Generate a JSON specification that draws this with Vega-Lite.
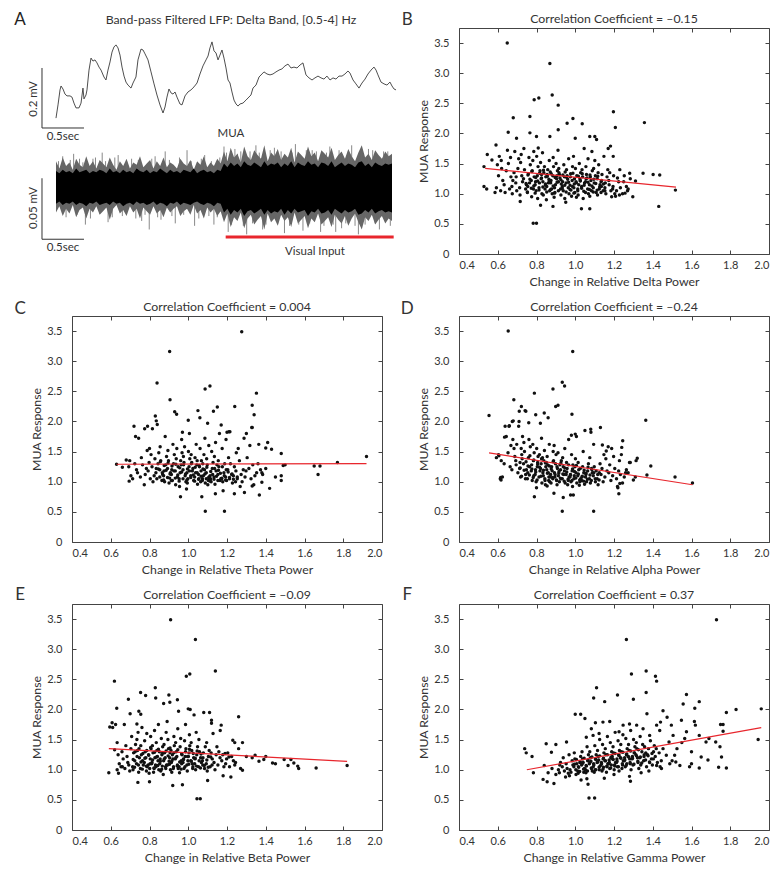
{"$schema":"https://vega.github.io/schema/vega-lite/v6.json","background":"white","padding":{"left":14,"top":10,"right":2,"bottom":2},"bounds":"flush","columns":2,"spacing":{"row":62,"column":77},
"config":{"font":"Lato","view":{"stroke":"#444","strokeWidth":1},"axis":{"grid":false,"domain":false,"tickColor":"#444","tickSize":-4,"labelFont":"Lato","labelFontSize":11,"labelColor":"#333","titleFont":"Lato","titleFontSize":12.3,"titleFontWeight":"normal","titleColor":"#333"},"axisX":{"labelPadding":9,"titlePadding":5},"axisY":{"labelPadding":14,"titlePadding":3},"text":{"font":"Lato","color":"#333"}},
"datasets":{
"lfp":[{"t":0,"mV":0.033},{"t":0.024,"mV":0.077},{"t":0.048,"mV":0.127},{"t":0.06,"mV":0.14},{"t":0.083,"mV":0.13},{"t":0.107,"mV":0.113},{"t":0.131,"mV":0.107},{"t":0.167,"mV":0.107},{"t":0.19,"mV":0.103},{"t":0.214,"mV":0.083},{"t":0.238,"mV":0.067},{"t":0.274,"mV":0.067},{"t":0.298,"mV":0.083},{"t":0.321,"mV":0.133},{"t":0.333,"mV":0.097},{"t":0.357,"mV":0.11},{"t":0.369,"mV":0.127},{"t":0.393,"mV":0.193},{"t":0.417,"mV":0.233},{"t":0.44,"mV":0.223},{"t":0.464,"mV":0.227},{"t":0.488,"mV":0.217},{"t":0.512,"mV":0.203},{"t":0.536,"mV":0.193},{"t":0.571,"mV":0.17},{"t":0.595,"mV":0.16},{"t":0.619,"mV":0.193},{"t":0.643,"mV":0.22},{"t":0.667,"mV":0.253},{"t":0.69,"mV":0.27},{"t":0.714,"mV":0.277},{"t":0.738,"mV":0.267},{"t":0.762,"mV":0.243},{"t":0.786,"mV":0.203},{"t":0.81,"mV":0.173},{"t":0.833,"mV":0.153},{"t":0.857,"mV":0.143},{"t":0.893,"mV":0.133},{"t":0.917,"mV":0.15},{"t":0.952,"mV":0.17},{"t":0.976,"mV":0.227},{"t":1.012,"mV":0.263},{"t":1.036,"mV":0.26},{"t":1.06,"mV":0.247},{"t":1.095,"mV":0.227},{"t":1.131,"mV":0.187},{"t":1.167,"mV":0.147},{"t":1.202,"mV":0.11},{"t":1.238,"mV":0.077},{"t":1.274,"mV":0.05},{"t":1.298,"mV":0.07},{"t":1.321,"mV":0.103},{"t":1.345,"mV":0.13},{"t":1.369,"mV":0.117},{"t":1.393,"mV":0.113},{"t":1.417,"mV":0.12},{"t":1.44,"mV":0.103},{"t":1.476,"mV":0.08},{"t":1.5,"mV":0.077},{"t":1.536,"mV":0.107},{"t":1.571,"mV":0.12},{"t":1.607,"mV":0.127},{"t":1.643,"mV":0.137},{"t":1.679,"mV":0.15},{"t":1.714,"mV":0.18},{"t":1.75,"mV":0.207},{"t":1.786,"mV":0.227},{"t":1.81,"mV":0.24},{"t":1.833,"mV":0.267},{"t":1.857,"mV":0.287},{"t":1.881,"mV":0.257},{"t":1.905,"mV":0.25},{"t":1.929,"mV":0.227},{"t":1.952,"mV":0.243},{"t":1.976,"mV":0.26},{"t":2.0,"mV":0.233},{"t":2.024,"mV":0.2},{"t":2.048,"mV":0.16},{"t":2.071,"mV":0.15},{"t":2.095,"mV":0.12},{"t":2.119,"mV":0.093},{"t":2.143,"mV":0.08},{"t":2.167,"mV":0.073},{"t":2.19,"mV":0.08},{"t":2.226,"mV":0.083},{"t":2.262,"mV":0.093},{"t":2.286,"mV":0.1},{"t":2.321,"mV":0.11},{"t":2.345,"mV":0.133},{"t":2.381,"mV":0.143},{"t":2.417,"mV":0.17},{"t":2.452,"mV":0.18},{"t":2.476,"mV":0.187},{"t":2.512,"mV":0.18},{"t":2.548,"mV":0.177},{"t":2.583,"mV":0.18},{"t":2.619,"mV":0.187},{"t":2.655,"mV":0.193},{"t":2.69,"mV":0.197},{"t":2.726,"mV":0.207},{"t":2.762,"mV":0.213},{"t":2.798,"mV":0.2},{"t":2.833,"mV":0.203},{"t":2.869,"mV":0.2},{"t":2.905,"mV":0.21},{"t":2.94,"mV":0.217},{"t":2.976,"mV":0.177},{"t":3.012,"mV":0.167},{"t":3.048,"mV":0.16},{"t":3.083,"mV":0.167},{"t":3.119,"mV":0.173},{"t":3.155,"mV":0.167},{"t":3.19,"mV":0.163},{"t":3.226,"mV":0.173},{"t":3.262,"mV":0.16},{"t":3.298,"mV":0.167},{"t":3.333,"mV":0.163},{"t":3.369,"mV":0.173},{"t":3.405,"mV":0.173},{"t":3.44,"mV":0.18},{"t":3.476,"mV":0.19},{"t":3.5,"mV":0.183},{"t":3.536,"mV":0.16},{"t":3.571,"mV":0.147},{"t":3.607,"mV":0.133},{"t":3.643,"mV":0.15},{"t":3.679,"mV":0.163},{"t":3.714,"mV":0.18},{"t":3.75,"mV":0.193},{"t":3.786,"mV":0.203},{"t":3.81,"mV":0.193},{"t":3.833,"mV":0.177},{"t":3.869,"mV":0.153},{"t":3.905,"mV":0.147},{"t":3.94,"mV":0.143},{"t":3.976,"mV":0.153},{"t":4.0,"mV":0.14},{"t":4.024,"mV":0.13},{"t":4.048,"mV":0.127}],
"mua":[{"t":0,"a":22,"b":14,"c":-13,"d":-20},{"t":0.04,"a":16,"b":12,"c":-11,"d":-15},{"t":0.08,"a":25,"b":15,"c":-14,"d":-23},{"t":0.12,"a":18,"b":13,"c":-12,"d":-17},{"t":0.16,"a":21,"b":14,"c":-13,"d":-21},{"t":0.2,"a":15,"b":12,"c":-11,"d":-14},{"t":0.24,"a":24,"b":16,"c":-14,"d":-24},{"t":0.28,"a":19,"b":13,"c":-12,"d":-18},{"t":0.32,"a":17,"b":14,"c":-13,"d":-16},{"t":0.36,"a":26,"b":15,"c":-15,"d":-25},{"t":0.4,"a":18,"b":12,"c":-12,"d":-17},{"t":0.44,"a":22,"b":14,"c":-13,"d":-20},{"t":0.48,"a":16,"b":13,"c":-11,"d":-15},{"t":0.52,"a":23,"b":15,"c":-14,"d":-22},{"t":0.56,"a":20,"b":14,"c":-13,"d":-19},{"t":0.6,"a":17,"b":12,"c":-12,"d":-16},{"t":0.64,"a":25,"b":16,"c":-14,"d":-26},{"t":0.68,"a":19,"b":13,"c":-11,"d":-17},{"t":0.72,"a":15,"b":14,"c":-13,"d":-14},{"t":0.76,"a":22,"b":12,"c":-12,"d":-21},{"t":0.8,"a":18,"b":15,"c":-15,"d":-18},{"t":0.84,"a":24,"b":13,"c":-13,"d":-23},{"t":0.88,"a":16,"b":14,"c":-12,"d":-15},{"t":0.92,"a":21,"b":12,"c":-14,"d":-20},{"t":0.96,"a":19,"b":16,"c":-11,"d":-17},{"t":1.0,"a":26,"b":14,"c":-13,"d":-25},{"t":1.04,"a":17,"b":13,"c":-12,"d":-16},{"t":1.08,"a":20,"b":15,"c":-14,"d":-19},{"t":1.12,"a":23,"b":12,"c":-13,"d":-22},{"t":1.16,"a":16,"b":14,"c":-11,"d":-15},{"t":1.2,"a":22,"b":13,"c":-14,"d":-21},{"t":1.24,"a":18,"b":16,"c":-12,"d":-18},{"t":1.28,"a":25,"b":14,"c":-13,"d":-24},{"t":1.32,"a":17,"b":12,"c":-15,"d":-16},{"t":1.36,"a":21,"b":15,"c":-12,"d":-20},{"t":1.4,"a":19,"b":13,"c":-13,"d":-17},{"t":1.44,"a":16,"b":14,"c":-11,"d":-15},{"t":1.48,"a":24,"b":12,"c":-14,"d":-23},{"t":1.52,"a":20,"b":15,"c":-12,"d":-19},{"t":1.56,"a":18,"b":14,"c":-13,"d":-17},{"t":1.6,"a":23,"b":13,"c":-14,"d":-22},{"t":1.64,"a":15,"b":16,"c":-12,"d":-14},{"t":1.68,"a":22,"b":12,"c":-11,"d":-21},{"t":1.72,"a":19,"b":14,"c":-13,"d":-18},{"t":1.76,"a":26,"b":15,"c":-14,"d":-25},{"t":1.8,"a":17,"b":13,"c":-12,"d":-16},{"t":1.84,"a":21,"b":14,"c":-13,"d":-20},{"t":1.88,"a":18,"b":12,"c":-15,"d":-17},{"t":1.92,"a":24,"b":15,"c":-12,"d":-23},{"t":1.96,"a":20,"b":14,"c":-13,"d":-19},{"t":2.0,"a":30,"b":20,"c":-20,"d":-28},{"t":2.04,"a":22,"b":17,"c":-17,"d":-21},{"t":2.08,"a":33,"b":21,"c":-22,"d":-32},{"t":2.12,"a":25,"b":18,"c":-18,"d":-24},{"t":2.16,"a":28,"b":20,"c":-20,"d":-27},{"t":2.2,"a":21,"b":17,"c":-17,"d":-20},{"t":2.24,"a":34,"b":22,"c":-23,"d":-33},{"t":2.28,"a":26,"b":19,"c":-19,"d":-25},{"t":2.32,"a":23,"b":18,"c":-18,"d":-22},{"t":2.36,"a":31,"b":21,"c":-21,"d":-30},{"t":2.4,"a":27,"b":19,"c":-19,"d":-26},{"t":2.44,"a":24,"b":17,"c":-17,"d":-23},{"t":2.48,"a":35,"b":22,"c":-22,"d":-34},{"t":2.52,"a":22,"b":18,"c":-18,"d":-21},{"t":2.56,"a":29,"b":20,"c":-21,"d":-28},{"t":2.6,"a":26,"b":19,"c":-19,"d":-25},{"t":2.64,"a":32,"b":21,"c":-20,"d":-31},{"t":2.68,"a":23,"b":17,"c":-17,"d":-22},{"t":2.72,"a":28,"b":20,"c":-22,"d":-27},{"t":2.76,"a":25,"b":18,"c":-18,"d":-24},{"t":2.8,"a":33,"b":22,"c":-21,"d":-32},{"t":2.84,"a":21,"b":17,"c":-17,"d":-20},{"t":2.88,"a":30,"b":21,"c":-20,"d":-29},{"t":2.92,"a":27,"b":19,"c":-19,"d":-26},{"t":2.96,"a":24,"b":18,"c":-18,"d":-23},{"t":3.0,"a":34,"b":22,"c":-23,"d":-33},{"t":3.04,"a":26,"b":19,"c":-19,"d":-25},{"t":3.08,"a":29,"b":20,"c":-20,"d":-28},{"t":3.12,"a":22,"b":17,"c":-17,"d":-21},{"t":3.16,"a":31,"b":21,"c":-21,"d":-30},{"t":3.2,"a":28,"b":20,"c":-20,"d":-27},{"t":3.24,"a":25,"b":18,"c":-18,"d":-24},{"t":3.28,"a":33,"b":22,"c":-22,"d":-32},{"t":3.32,"a":23,"b":17,"c":-17,"d":-22},{"t":3.36,"a":27,"b":19,"c":-19,"d":-26},{"t":3.4,"a":30,"b":21,"c":-21,"d":-29},{"t":3.44,"a":24,"b":18,"c":-18,"d":-23},{"t":3.48,"a":32,"b":20,"c":-20,"d":-31},{"t":3.52,"a":26,"b":19,"c":-19,"d":-25},{"t":3.56,"a":22,"b":17,"c":-17,"d":-21},{"t":3.6,"a":29,"b":21,"c":-22,"d":-28},{"t":3.64,"a":35,"b":22,"c":-21,"d":-34},{"t":3.68,"a":25,"b":18,"c":-18,"d":-24},{"t":3.72,"a":28,"b":20,"c":-20,"d":-27},{"t":3.76,"a":23,"b":17,"c":-17,"d":-22},{"t":3.8,"a":31,"b":21,"c":-21,"d":-30},{"t":3.84,"a":27,"b":19,"c":-19,"d":-26},{"t":3.88,"a":24,"b":18,"c":-18,"d":-23},{"t":3.92,"a":30,"b":20,"c":-20,"d":-29},{"t":3.96,"a":26,"b":19,"c":-19,"d":-25},{"t":4.0,"a":28,"b":20,"c":-20,"d":-27}],
"spikes":[{"t":0.08,"lo":10,"hi":26},{"t":0.21,"lo":10,"hi":28},{"t":0.28,"lo":10,"hi":24},{"t":0.35,"lo":-30,"hi":-10},{"t":0.47,"lo":10,"hi":25},{"t":0.55,"lo":10,"hi":29},{"t":0.62,"lo":-28,"hi":-10},{"t":0.74,"lo":10,"hi":27},{"t":0.9,"lo":10,"hi":24},{"t":1.02,"lo":-27,"hi":-10},{"t":1.11,"lo":-34,"hi":-10},{"t":1.18,"lo":10,"hi":26},{"t":1.25,"lo":-26,"hi":-10},{"t":1.3,"lo":10,"hi":30},{"t":1.42,"lo":-29,"hi":-10},{"t":1.56,"lo":10,"hi":31},{"t":1.65,"lo":-31,"hi":-10},{"t":1.77,"lo":10,"hi":27},{"t":1.88,"lo":-30,"hi":-10},{"t":1.95,"lo":10,"hi":25},{"t":2.0,"lo":15,"hi":34},{"t":2.05,"lo":-36,"hi":-15},{"t":2.13,"lo":15,"hi":32},{"t":2.2,"lo":15,"hi":30},{"t":2.27,"lo":-38,"hi":-15},{"t":2.38,"lo":15,"hi":35},{"t":2.46,"lo":-34,"hi":-15},{"t":2.6,"lo":15,"hi":33},{"t":2.72,"lo":-37,"hi":-15},{"t":2.85,"lo":15,"hi":36},{"t":2.94,"lo":-35,"hi":-15},{"t":3.05,"lo":15,"hi":31},{"t":3.15,"lo":-36,"hi":-15},{"t":3.26,"lo":15,"hi":34},{"t":3.33,"lo":-36,"hi":-15},{"t":3.4,"lo":-33,"hi":-15},{"t":3.52,"lo":15,"hi":35},{"t":3.6,"lo":-38,"hi":-15},{"t":3.72,"lo":15,"hi":32},{"t":3.85,"lo":-34,"hi":-15},{"t":3.95,"lo":15,"hi":30},{"t":0.03,"lo":12,"hi":22},{"t":0.12,"lo":-24,"hi":-12},{"t":0.17,"lo":12,"hi":23},{"t":0.25,"lo":-22,"hi":-12},{"t":0.32,"lo":12,"hi":21},{"t":0.41,"lo":-25,"hi":-12},{"t":0.44,"lo":12,"hi":24},{"t":0.52,"lo":-21,"hi":-12},{"t":0.59,"lo":12,"hi":22},{"t":0.67,"lo":-24,"hi":-12},{"t":0.7,"lo":12,"hi":25},{"t":0.79,"lo":-23,"hi":-12},{"t":0.84,"lo":12,"hi":22},{"t":0.95,"lo":-25,"hi":-12},{"t":0.98,"lo":12,"hi":23},{"t":1.06,"lo":-22,"hi":-12},{"t":1.14,"lo":12,"hi":24},{"t":1.21,"lo":-24,"hi":-12},{"t":1.35,"lo":12,"hi":23},{"t":1.38,"lo":-23,"hi":-12},{"t":1.47,"lo":12,"hi":25},{"t":1.52,"lo":-22,"hi":-12},{"t":1.61,"lo":12,"hi":22},{"t":1.7,"lo":-25,"hi":-12},{"t":1.73,"lo":12,"hi":24},{"t":1.82,"lo":-23,"hi":-12},{"t":1.85,"lo":12,"hi":22},{"t":1.92,"lo":-24,"hi":-12},{"t":2.03,"lo":18,"hi":29},{"t":2.09,"lo":-30,"hi":-18},{"t":2.16,"lo":18,"hi":28},{"t":2.23,"lo":-31,"hi":-18},{"t":2.31,"lo":18,"hi":30},{"t":2.34,"lo":-29,"hi":-18},{"t":2.42,"lo":18,"hi":29},{"t":2.5,"lo":-30,"hi":-18},{"t":2.55,"lo":18,"hi":31},{"t":2.64,"lo":-29,"hi":-18},{"t":2.68,"lo":18,"hi":30},{"t":2.78,"lo":-31,"hi":-18},{"t":2.81,"lo":18,"hi":29},{"t":2.89,"lo":-30,"hi":-18},{"t":2.98,"lo":18,"hi":31},{"t":3.02,"lo":-29,"hi":-18},{"t":3.1,"lo":18,"hi":30},{"t":3.19,"lo":-31,"hi":-18},{"t":3.22,"lo":18,"hi":29},{"t":3.3,"lo":-30,"hi":-18},{"t":3.37,"lo":18,"hi":31},{"t":3.45,"lo":-29,"hi":-18},{"t":3.48,"lo":18,"hi":30},{"t":3.56,"lo":-31,"hi":-18},{"t":3.64,"lo":18,"hi":29},{"t":3.68,"lo":-30,"hi":-18},{"t":3.77,"lo":18,"hi":31},{"t":3.8,"lo":-29,"hi":-18},{"t":3.9,"lo":18,"hi":30},{"t":3.98,"lo":-31,"hi":-18}],
"fit":[{"panel":"B","x":0.535,"y":1.42},{"panel":"B","x":1.52,"y":1.11},{"panel":"C","x":0.63,"y":1.29},{"panel":"C","x":1.92,"y":1.3},{"panel":"D","x":0.555,"y":1.48},{"panel":"D","x":1.605,"y":0.95},{"panel":"E","x":0.59,"y":1.35},{"panel":"E","x":1.82,"y":1.14},{"panel":"F","x":0.75,"y":1.0},{"panel":"F","x":1.96,"y":1.7}],
"B":[{"x":0.593,"y":1.1},{"x":0.604,"y":1.3},{"x":0.598,"y":1.48},{"x":0.608,"y":1.62},{"x":0.615,"y":1.05},{"x":0.626,"y":1.22},{"x":0.618,"y":1.55},{"x":0.633,"y":1.15},{"x":0.644,"y":1.38},{"x":0.638,"y":1.02},{"x":0.668,"y":1.28},{"x":0.655,"y":1.5},{"x":0.661,"y":1.08},{"x":0.666,"y":1.6},{"x":0.673,"y":1.12},{"x":0.684,"y":1.35},{"x":0.678,"y":1.22},{"x":0.688,"y":1.7},{"x":0.675,"y":1.0},{"x":0.693,"y":1.18},{"x":0.704,"y":1.42},{"x":0.698,"y":1.05},{"x":0.708,"y":1.58},{"x":0.695,"y":1.28},{"x":0.713,"y":1.1},{"x":0.724,"y":1.3},{"x":0.718,"y":1.52},{"x":0.728,"y":1.2},{"x":0.715,"y":0.98},{"x":0.721,"y":1.65},{"x":0.733,"y":1.25},{"x":0.744,"y":1.08},{"x":0.738,"y":1.4},{"x":0.748,"y":1.15},{"x":0.735,"y":1.75},{"x":0.753,"y":1.02},{"x":0.764,"y":1.18},{"x":0.758,"y":1.33},{"x":0.768,"y":1.48},{"x":0.755,"y":1.12},{"x":0.761,"y":1.6},{"x":0.773,"y":1.22},{"x":0.784,"y":1.08},{"x":0.778,"y":1.38},{"x":0.788,"y":1.28},{"x":0.775,"y":0.95},{"x":0.781,"y":1.55},{"x":0.786,"y":1.7},{"x":0.793,"y":1.15},{"x":0.804,"y":1.3},{"x":0.798,"y":1.05},{"x":0.808,"y":1.45},{"x":0.795,"y":1.2},{"x":0.801,"y":1.62},{"x":0.806,"y":0.92},{"x":0.813,"y":1.1},{"x":0.824,"y":1.25},{"x":0.818,"y":1.38},{"x":0.828,"y":1.0},{"x":0.815,"y":1.18},{"x":0.821,"y":1.52},{"x":0.826,"y":1.32},{"x":0.833,"y":1.2},{"x":0.844,"y":1.08},{"x":0.838,"y":1.35},{"x":0.848,"y":1.28},{"x":0.835,"y":0.98},{"x":0.841,"y":1.45},{"x":0.846,"y":1.14},{"x":0.831,"y":1.68},{"x":0.853,"y":1.12},{"x":0.864,"y":1.24},{"x":0.858,"y":1.4},{"x":0.868,"y":1.05},{"x":0.855,"y":1.32},{"x":0.861,"y":1.18},{"x":0.866,"y":1.55},{"x":0.851,"y":0.9},{"x":0.873,"y":1.18},{"x":0.884,"y":1.3},{"x":0.878,"y":1.08},{"x":0.888,"y":1.45},{"x":0.875,"y":1.22},{"x":0.881,"y":1.0},{"x":0.886,"y":1.6},{"x":0.871,"y":1.36},{"x":0.893,"y":1.1},{"x":0.904,"y":1.25},{"x":0.898,"y":1.15},{"x":0.908,"y":1.38},{"x":0.895,"y":1.02},{"x":0.901,"y":1.5},{"x":0.906,"y":1.3},{"x":0.891,"y":0.94},{"x":0.913,"y":1.2},{"x":0.924,"y":1.08},{"x":0.918,"y":1.32},{"x":0.928,"y":1.16},{"x":0.915,"y":1.42},{"x":0.921,"y":1.26},{"x":0.926,"y":0.98},{"x":0.911,"y":1.72},{"x":0.933,"y":1.12},{"x":0.944,"y":1.28},{"x":0.938,"y":1.05},{"x":0.948,"y":1.36},{"x":0.935,"y":1.2},{"x":0.941,"y":1.48},{"x":0.946,"y":0.92},{"x":0.953,"y":1.18},{"x":0.964,"y":1.1},{"x":0.958,"y":1.3},{"x":0.968,"y":1.0},{"x":0.955,"y":1.4},{"x":0.961,"y":1.24},{"x":0.966,"y":1.58},{"x":0.951,"y":0.86},{"x":0.973,"y":1.14},{"x":0.984,"y":1.22},{"x":0.978,"y":1.06},{"x":0.988,"y":1.34},{"x":0.975,"y":1.28},{"x":0.981,"y":0.96},{"x":0.986,"y":1.45},{"x":0.993,"y":1.1},{"x":1.004,"y":1.2},{"x":0.998,"y":1.02},{"x":1.008,"y":1.3},{"x":0.995,"y":1.16},{"x":1.001,"y":1.42},{"x":1.006,"y":0.94},{"x":0.991,"y":1.62},{"x":1.013,"y":1.08},{"x":1.024,"y":1.25},{"x":1.018,"y":1.15},{"x":1.028,"y":1.35},{"x":1.015,"y":0.98},{"x":1.021,"y":1.5},{"x":1.026,"y":1.22},{"x":1.033,"y":1.12},{"x":1.044,"y":1.04},{"x":1.038,"y":1.28},{"x":1.048,"y":1.18},{"x":1.035,"y":1.4},{"x":1.041,"y":0.92},{"x":1.046,"y":1.75},{"x":1.053,"y":1.2},{"x":1.064,"y":1.08},{"x":1.058,"y":1.32},{"x":1.068,"y":1.0},{"x":1.055,"y":1.45},{"x":1.061,"y":1.26},{"x":1.066,"y":1.58},{"x":1.073,"y":1.15},{"x":1.084,"y":1.05},{"x":1.078,"y":1.28},{"x":1.088,"y":1.38},{"x":1.075,"y":0.96},{"x":1.081,"y":1.22},{"x":1.086,"y":1.7},{"x":1.093,"y":1.1},{"x":1.104,"y":1.3},{"x":1.098,"y":1.18},{"x":1.108,"y":1.02},{"x":1.095,"y":1.42},{"x":1.101,"y":1.55},{"x":1.113,"y":1.25},{"x":1.124,"y":1.08},{"x":1.118,"y":1.35},{"x":1.128,"y":1.15},{"x":1.115,"y":0.98},{"x":1.121,"y":1.48},{"x":1.133,"y":1.2},{"x":1.144,"y":1.05},{"x":1.138,"y":1.32},{"x":1.148,"y":1.62},{"x":1.135,"y":1.12},{"x":1.153,"y":1.1},{"x":1.164,"y":1.28},{"x":1.158,"y":1.0},{"x":1.168,"y":1.4},{"x":1.155,"y":1.18},{"x":1.173,"y":1.22},{"x":1.184,"y":1.05},{"x":1.178,"y":1.35},{"x":1.188,"y":0.95},{"x":1.175,"y":1.15},{"x":1.193,"y":1.08},{"x":1.204,"y":1.0},{"x":1.198,"y":1.3},{"x":1.208,"y":0.96},{"x":1.195,"y":1.12},{"x":1.213,"y":1.05},{"x":1.224,"y":1.2},{"x":1.218,"y":1.26},{"x":1.228,"y":0.98},{"x":1.233,"y":1.1},{"x":1.244,"y":1.0},{"x":1.253,"y":1.3},{"x":1.264,"y":1.12},{"x":1.273,"y":1.08},{"x":1.284,"y":1.25},{"x":0.649,"y":3.5},{"x":0.869,"y":3.16},{"x":0.881,"y":2.64},{"x":0.812,"y":2.59},{"x":0.788,"y":2.56},{"x":0.912,"y":2.47},{"x":0.68,"y":2.26},{"x":0.766,"y":2.28},{"x":0.988,"y":2.25},{"x":0.958,"y":2.17},{"x":1.036,"y":2.16},{"x":1.197,"y":2.36},{"x":1.207,"y":2.1},{"x":1.357,"y":2.18},{"x":0.654,"y":2.02},{"x":0.591,"y":1.81},{"x":0.546,"y":1.65},{"x":0.529,"y":1.45},{"x":0.529,"y":1.12},{"x":0.543,"y":1.08},{"x":0.586,"y":1.02},{"x":0.716,"y":0.87},{"x":0.821,"y":0.81},{"x":0.885,"y":0.79},{"x":0.783,"y":0.51},{"x":0.8,"y":0.51},{"x":1.032,"y":0.75},{"x":1.075,"y":0.75},{"x":1.35,"y":1.34},{"x":1.402,"y":1.32},{"x":1.436,"y":1.31},{"x":1.431,"y":0.79},{"x":1.517,"y":1.06},{"x":1.297,"y":0.95},{"x":1.257,"y":1.01},{"x":1.281,"y":1.34},{"x":1.311,"y":1.21},{"x":1.182,"y":1.79},{"x":1.17,"y":1.75},{"x":1.196,"y":1.62},{"x":1.0,"y":1.92},{"x":1.075,"y":1.95},{"x":1.101,"y":1.95},{"x":1.11,"y":1.9},{"x":0.912,"y":2.06},{"x":0.869,"y":1.95},{"x":0.8,"y":1.95},{"x":0.809,"y":1.76},{"x":0.697,"y":1.92},{"x":0.766,"y":2.01},{"x":0.57,"y":1.56},{"x":0.62,"y":1.42},{"x":0.65,"y":1.72},{"x":1.25,"y":1.2},{"x":1.27,"y":1.05},{"x":1.23,"y":1.4},{"x":0.753,"y":1.03},{"x":0.746,"y":1.17},{"x":0.756,"y":1.31},{"x":0.773,"y":1.09},{"x":0.766,"y":1.24},{"x":0.776,"y":1.37},{"x":0.793,"y":1.01},{"x":0.786,"y":1.13},{"x":0.796,"y":1.27},{"x":0.813,"y":1.06},{"x":0.806,"y":1.21},{"x":0.816,"y":1.34},{"x":0.833,"y":1.11},{"x":0.826,"y":1.26},{"x":0.836,"y":1.39},{"x":0.853,"y":1.03},{"x":0.846,"y":1.16},{"x":0.856,"y":1.29},{"x":0.873,"y":1.07},{"x":0.866,"y":1.21},{"x":0.876,"y":1.33},{"x":0.893,"y":1.01},{"x":0.886,"y":1.13},{"x":0.896,"y":1.27},{"x":0.913,"y":1.05},{"x":0.906,"y":1.19},{"x":0.916,"y":1.35},{"x":0.933,"y":1.09},{"x":0.926,"y":1.23},{"x":0.936,"y":1.31},{"x":0.953,"y":1.03},{"x":0.946,"y":1.14},{"x":0.956,"y":1.27},{"x":0.973,"y":1.07},{"x":0.966,"y":1.19},{"x":0.976,"y":1.33},{"x":0.993,"y":1.01},{"x":0.986,"y":1.12},{"x":0.996,"y":1.25},{"x":1.013,"y":1.05},{"x":1.006,"y":1.18},{"x":1.016,"y":1.29},{"x":1.033,"y":1.09},{"x":1.026,"y":1.21},{"x":1.036,"y":1.33},{"x":1.053,"y":1.02},{"x":1.046,"y":1.14},{"x":1.056,"y":1.25},{"x":1.073,"y":1.07},{"x":1.066,"y":1.19},{"x":1.076,"y":1.31},{"x":1.093,"y":1.03},{"x":1.086,"y":1.13},{"x":1.096,"y":1.24},{"x":1.113,"y":1.06},{"x":1.106,"y":1.17},{"x":1.116,"y":1.29},{"x":1.133,"y":1.02},{"x":1.126,"y":1.11},{"x":1.136,"y":1.22},{"x":1.153,"y":1.05},{"x":1.146,"y":1.16}],
"C":[{"x":0.693,"y":1.25},{"x":0.704,"y":1.1},{"x":0.698,"y":1.35},{"x":0.713,"y":1.05},{"x":0.724,"y":1.3},{"x":0.733,"y":1.2},{"x":0.744,"y":1.72},{"x":0.738,"y":1.15},{"x":0.753,"y":1.08},{"x":0.764,"y":1.28},{"x":0.758,"y":1.4},{"x":0.773,"y":0.95},{"x":0.784,"y":1.22},{"x":0.778,"y":1.12},{"x":0.788,"y":1.52},{"x":0.793,"y":1.18},{"x":0.804,"y":1.05},{"x":0.798,"y":1.32},{"x":0.808,"y":1.45},{"x":0.813,"y":1.25},{"x":0.824,"y":1.1},{"x":0.818,"y":1.0},{"x":0.828,"y":1.38},{"x":0.815,"y":1.88},{"x":0.833,"y":1.15},{"x":0.844,"y":1.3},{"x":0.838,"y":1.05},{"x":0.848,"y":1.48},{"x":0.835,"y":1.22},{"x":0.853,"y":1.2},{"x":0.864,"y":1.02},{"x":0.858,"y":1.35},{"x":0.868,"y":1.12},{"x":0.855,"y":1.58},{"x":0.873,"y":1.1},{"x":0.884,"y":1.28},{"x":0.878,"y":1.0},{"x":0.888,"y":1.42},{"x":0.875,"y":1.18},{"x":0.881,"y":1.75},{"x":0.893,"y":1.22},{"x":0.904,"y":1.06},{"x":0.898,"y":1.35},{"x":0.908,"y":1.15},{"x":0.895,"y":1.52},{"x":0.901,"y":0.98},{"x":0.913,"y":1.12},{"x":0.924,"y":1.3},{"x":0.918,"y":1.02},{"x":0.928,"y":1.45},{"x":0.915,"y":1.2},{"x":0.921,"y":1.62},{"x":0.933,"y":1.18},{"x":0.944,"y":1.08},{"x":0.938,"y":1.38},{"x":0.948,"y":1.25},{"x":0.935,"y":0.95},{"x":0.941,"y":1.55},{"x":0.953,"y":1.05},{"x":0.964,"y":1.28},{"x":0.958,"y":1.15},{"x":0.968,"y":1.48},{"x":0.955,"y":0.92},{"x":0.961,"y":1.35},{"x":0.966,"y":1.7},{"x":0.973,"y":1.2},{"x":0.984,"y":1.1},{"x":0.978,"y":1.32},{"x":0.988,"y":1.0},{"x":0.975,"y":1.42},{"x":0.981,"y":1.58},{"x":0.993,"y":1.15},{"x":1.004,"y":1.25},{"x":0.998,"y":1.05},{"x":1.008,"y":1.38},{"x":0.995,"y":0.98},{"x":1.001,"y":1.5},{"x":1.006,"y":1.8},{"x":0.991,"y":0.88},{"x":1.013,"y":1.1},{"x":1.024,"y":1.22},{"x":1.018,"y":1.32},{"x":1.028,"y":1.02},{"x":1.015,"y":1.45},{"x":1.021,"y":1.18},{"x":1.033,"y":1.08},{"x":1.044,"y":1.28},{"x":1.038,"y":1.15},{"x":1.048,"y":0.96},{"x":1.035,"y":1.4},{"x":1.041,"y":1.62},{"x":1.046,"y":1.35},{"x":1.053,"y":1.12},{"x":1.064,"y":1.0},{"x":1.058,"y":1.25},{"x":1.068,"y":1.35},{"x":1.055,"y":1.05},{"x":1.061,"y":1.55},{"x":1.066,"y":1.18},{"x":1.073,"y":1.05},{"x":1.084,"y":1.2},{"x":1.078,"y":1.1},{"x":1.088,"y":0.98},{"x":1.075,"y":1.3},{"x":1.081,"y":1.45},{"x":1.086,"y":1.72},{"x":1.093,"y":1.15},{"x":1.104,"y":1.02},{"x":1.098,"y":1.28},{"x":1.108,"y":1.08},{"x":1.095,"y":1.38},{"x":1.101,"y":0.95},{"x":1.106,"y":1.6},{"x":1.113,"y":1.1},{"x":1.124,"y":1.22},{"x":1.118,"y":1.0},{"x":1.128,"y":1.32},{"x":1.115,"y":1.05},{"x":1.121,"y":1.5},{"x":1.133,"y":1.08},{"x":1.144,"y":1.18},{"x":1.138,"y":0.96},{"x":1.148,"y":1.28},{"x":1.135,"y":1.42},{"x":1.141,"y":1.65},{"x":1.153,"y":1.12},{"x":1.164,"y":1.02},{"x":1.158,"y":1.25},{"x":1.168,"y":1.05},{"x":1.155,"y":1.35},{"x":1.161,"y":1.8},{"x":1.173,"y":1.05},{"x":1.184,"y":1.15},{"x":1.178,"y":1.0},{"x":1.188,"y":1.3},{"x":1.175,"y":1.55},{"x":1.193,"y":1.08},{"x":1.204,"y":1.2},{"x":1.198,"y":1.02},{"x":1.208,"y":1.4},{"x":1.195,"y":1.7},{"x":1.213,"y":1.05},{"x":1.224,"y":1.12},{"x":1.218,"y":1.3},{"x":1.228,"y":0.98},{"x":1.215,"y":1.83},{"x":1.233,"y":1.1},{"x":1.244,"y":1.0},{"x":1.238,"y":1.25},{"x":1.248,"y":1.48},{"x":1.253,"y":1.05},{"x":1.264,"y":1.35},{"x":1.258,"y":1.55},{"x":1.268,"y":0.92},{"x":1.273,"y":1.12},{"x":1.284,"y":1.2},{"x":1.278,"y":1.0},{"x":1.288,"y":1.72},{"x":1.293,"y":1.08},{"x":1.304,"y":1.4},{"x":1.298,"y":1.18},{"x":1.313,"y":1.22},{"x":1.324,"y":1.05},{"x":1.318,"y":1.6},{"x":1.328,"y":1.9},{"x":1.333,"y":1.28},{"x":1.344,"y":1.1},{"x":1.338,"y":0.95},{"x":1.353,"y":1.15},{"x":1.364,"y":1.62},{"x":1.373,"y":1.2},{"x":1.384,"y":1.12},{"x":0.63,"y":1.29},{"x":0.66,"y":1.24},{"x":0.68,"y":1.36},{"x":0.695,"y":1.01},{"x":0.72,"y":1.92},{"x":0.728,"y":1.75},{"x":0.775,"y":1.88},{"x":0.79,"y":1.92},{"x":0.8,"y":1.55},{"x":0.83,"y":2.09},{"x":0.84,"y":1.95},{"x":0.835,"y":2.01},{"x":0.839,"y":2.64},{"x":0.904,"y":3.16},{"x":0.906,"y":2.36},{"x":0.93,"y":2.16},{"x":0.94,"y":2.12},{"x":0.96,"y":0.75},{"x":1.05,"y":2.18},{"x":1.06,"y":2.06},{"x":1.1,"y":1.97},{"x":1.087,"y":2.54},{"x":1.112,"y":2.59},{"x":1.13,"y":2.17},{"x":1.15,"y":2.24},{"x":1.17,"y":1.94},{"x":1.24,"y":2.25},{"x":1.276,"y":3.49},{"x":1.3,"y":1.8},{"x":1.33,"y":2.27},{"x":1.34,"y":2.11},{"x":1.33,"y":1.9},{"x":1.352,"y":2.47},{"x":1.07,"y":0.75},{"x":1.088,"y":0.51},{"x":1.187,"y":0.51},{"x":1.14,"y":0.8},{"x":1.18,"y":0.85},{"x":1.238,"y":0.8},{"x":1.29,"y":0.82},{"x":1.33,"y":0.93},{"x":1.367,"y":0.78},{"x":1.38,"y":0.99},{"x":1.4,"y":1.56},{"x":1.41,"y":1.65},{"x":1.42,"y":0.89},{"x":1.43,"y":1.54},{"x":1.45,"y":1.08},{"x":1.48,"y":1.02},{"x":1.48,"y":1.1},{"x":1.48,"y":1.47},{"x":1.49,"y":1.27},{"x":1.5,"y":1.28},{"x":1.38,"y":1.15},{"x":1.4,"y":1.22},{"x":1.36,"y":1.3},{"x":1.65,"y":1.26},{"x":1.67,"y":1.12},{"x":1.68,"y":1.26},{"x":1.77,"y":1.32},{"x":1.92,"y":1.42},{"x":1.0,"y":2.02},{"x":0.97,"y":1.82},{"x":1.21,"y":1.83},{"x":1.2,"y":1.82},{"x":0.853,"y":1.08},{"x":0.846,"y":1.21},{"x":0.856,"y":1.33},{"x":0.873,"y":1.03},{"x":0.866,"y":1.15},{"x":0.876,"y":1.27},{"x":0.893,"y":1.07},{"x":0.886,"y":1.19},{"x":0.896,"y":1.31},{"x":0.913,"y":1.02},{"x":0.906,"y":1.13},{"x":0.916,"y":1.26},{"x":0.933,"y":1.06},{"x":0.926,"y":1.18},{"x":0.936,"y":1.29},{"x":0.953,"y":1.01},{"x":0.946,"y":1.11},{"x":0.956,"y":1.23},{"x":0.973,"y":1.05},{"x":0.966,"y":1.16},{"x":0.976,"y":1.28},{"x":0.993,"y":1.03},{"x":0.986,"y":1.13},{"x":0.996,"y":1.21},{"x":1.013,"y":1.07},{"x":1.006,"y":1.18},{"x":1.016,"y":1.3},{"x":1.033,"y":1.01},{"x":1.026,"y":1.11},{"x":1.036,"y":1.24},{"x":1.053,"y":1.04},{"x":1.046,"y":1.15},{"x":1.056,"y":1.27},{"x":1.073,"y":1.02},{"x":1.066,"y":1.09},{"x":1.076,"y":1.21},{"x":1.093,"y":1.05},{"x":1.086,"y":1.13},{"x":1.096,"y":1.24},{"x":1.113,"y":1.01},{"x":1.106,"y":1.07},{"x":1.116,"y":1.17},{"x":1.133,"y":1.04},{"x":1.126,"y":1.12},{"x":1.136,"y":1.22},{"x":1.153,"y":1.02},{"x":1.146,"y":1.09},{"x":1.156,"y":1.19},{"x":1.173,"y":1.06},{"x":1.166,"y":1.14},{"x":1.176,"y":1.25},{"x":1.193,"y":1.03},{"x":1.186,"y":1.1},{"x":1.196,"y":1.2},{"x":1.213,"y":1.07},{"x":1.206,"y":1.16},{"x":1.233,"y":1.04},{"x":1.226,"y":1.13},{"x":1.253,"y":1.08},{"x":1.246,"y":1.18}],
"D":[{"x":0.593,"y":1.4},{"x":0.604,"y":1.45},{"x":0.613,"y":1.05},{"x":0.624,"y":1.08},{"x":0.618,"y":1.35},{"x":0.633,"y":1.3},{"x":0.644,"y":1.75},{"x":0.638,"y":1.92},{"x":0.653,"y":1.48},{"x":0.664,"y":1.25},{"x":0.658,"y":1.92},{"x":0.668,"y":1.6},{"x":0.673,"y":1.2},{"x":0.684,"y":1.55},{"x":0.678,"y":1.7},{"x":0.688,"y":1.42},{"x":0.675,"y":2.0},{"x":0.693,"y":1.35},{"x":0.704,"y":1.15},{"x":0.698,"y":1.62},{"x":0.708,"y":1.92},{"x":0.695,"y":1.28},{"x":0.713,"y":1.22},{"x":0.724,"y":1.45},{"x":0.718,"y":1.08},{"x":0.728,"y":1.75},{"x":0.715,"y":1.32},{"x":0.721,"y":1.55},{"x":0.733,"y":1.3},{"x":0.744,"y":1.12},{"x":0.738,"y":1.5},{"x":0.748,"y":1.2},{"x":0.735,"y":1.65},{"x":0.741,"y":2.18},{"x":0.753,"y":1.05},{"x":0.764,"y":1.25},{"x":0.758,"y":1.4},{"x":0.768,"y":1.58},{"x":0.755,"y":1.15},{"x":0.761,"y":1.7},{"x":0.773,"y":1.18},{"x":0.784,"y":1.35},{"x":0.778,"y":1.02},{"x":0.788,"y":1.48},{"x":0.775,"y":1.28},{"x":0.781,"y":1.62},{"x":0.786,"y":1.1},{"x":0.793,"y":1.12},{"x":0.804,"y":1.25},{"x":0.798,"y":1.0},{"x":0.808,"y":1.42},{"x":0.795,"y":1.2},{"x":0.801,"y":1.55},{"x":0.806,"y":1.32},{"x":0.813,"y":1.08},{"x":0.824,"y":1.3},{"x":0.818,"y":1.18},{"x":0.828,"y":0.98},{"x":0.815,"y":1.45},{"x":0.821,"y":1.22},{"x":0.826,"y":1.72},{"x":0.833,"y":1.15},{"x":0.844,"y":1.02},{"x":0.838,"y":1.35},{"x":0.848,"y":1.25},{"x":0.835,"y":1.1},{"x":0.841,"y":1.52},{"x":0.846,"y":0.95},{"x":0.831,"y":1.4},{"x":0.853,"y":1.2},{"x":0.864,"y":1.08},{"x":0.858,"y":1.28},{"x":0.868,"y":1.0},{"x":0.855,"y":1.42},{"x":0.861,"y":1.15},{"x":0.866,"y":1.62},{"x":0.851,"y":1.32},{"x":0.873,"y":1.12},{"x":0.884,"y":1.05},{"x":0.878,"y":1.25},{"x":0.888,"y":1.35},{"x":0.875,"y":0.98},{"x":0.881,"y":1.18},{"x":0.886,"y":1.5},{"x":0.871,"y":1.08},{"x":0.893,"y":1.15},{"x":0.904,"y":1.02},{"x":0.898,"y":1.3},{"x":0.908,"y":1.22},{"x":0.895,"y":1.08},{"x":0.901,"y":1.45},{"x":0.906,"y":0.95},{"x":0.891,"y":1.6},{"x":0.913,"y":1.1},{"x":0.924,"y":1.2},{"x":0.918,"y":1.0},{"x":0.928,"y":1.35},{"x":0.915,"y":1.14},{"x":0.921,"y":1.28},{"x":0.926,"y":1.05},{"x":0.911,"y":1.48},{"x":0.933,"y":1.05},{"x":0.944,"y":1.18},{"x":0.938,"y":1.25},{"x":0.948,"y":0.98},{"x":0.935,"y":1.4},{"x":0.941,"y":1.12},{"x":0.946,"y":1.55},{"x":0.953,"y":1.12},{"x":0.964,"y":1.02},{"x":0.958,"y":1.22},{"x":0.968,"y":1.08},{"x":0.955,"y":1.32},{"x":0.961,"y":0.95},{"x":0.966,"y":1.7},{"x":0.973,"y":1.08},{"x":0.984,"y":1.18},{"x":0.978,"y":1.0},{"x":0.988,"y":1.28},{"x":0.975,"y":1.12},{"x":0.981,"y":1.45},{"x":0.986,"y":0.92},{"x":0.993,"y":1.05},{"x":1.004,"y":1.15},{"x":0.998,"y":1.25},{"x":1.008,"y":0.98},{"x":0.995,"y":1.1},{"x":1.001,"y":1.38},{"x":1.006,"y":1.75},{"x":1.013,"y":1.1},{"x":1.024,"y":1.0},{"x":1.018,"y":1.2},{"x":1.028,"y":1.05},{"x":1.015,"y":1.32},{"x":1.021,"y":0.94},{"x":1.033,"y":1.02},{"x":1.044,"y":1.15},{"x":1.038,"y":1.25},{"x":1.048,"y":0.96},{"x":1.035,"y":1.08},{"x":1.041,"y":1.5},{"x":1.053,"y":1.08},{"x":1.064,"y":1.18},{"x":1.058,"y":1.0},{"x":1.068,"y":1.3},{"x":1.055,"y":1.12},{"x":1.073,"y":1.05},{"x":1.084,"y":1.22},{"x":1.078,"y":0.98},{"x":1.088,"y":1.15},{"x":1.075,"y":1.4},{"x":1.081,"y":1.82},{"x":1.093,"y":1.1},{"x":1.104,"y":1.0},{"x":1.098,"y":1.25},{"x":1.108,"y":1.18},{"x":1.095,"y":1.62},{"x":1.113,"y":1.05},{"x":1.124,"y":1.15},{"x":1.118,"y":0.95},{"x":1.128,"y":1.3},{"x":1.133,"y":1.12},{"x":1.144,"y":1.0},{"x":1.138,"y":1.22},{"x":1.148,"y":1.45},{"x":1.153,"y":1.08},{"x":1.164,"y":1.18},{"x":1.158,"y":1.38},{"x":1.173,"y":1.15},{"x":1.184,"y":1.02},{"x":1.178,"y":1.28},{"x":1.188,"y":1.55},{"x":1.193,"y":1.1},{"x":1.204,"y":1.22},{"x":1.198,"y":1.42},{"x":1.213,"y":1.05},{"x":1.224,"y":1.18},{"x":1.218,"y":0.92},{"x":1.228,"y":1.35},{"x":1.233,"y":1.12},{"x":1.244,"y":0.98},{"x":1.238,"y":1.45},{"x":1.253,"y":1.08},{"x":1.264,"y":1.2},{"x":1.273,"y":1.15},{"x":1.284,"y":1.32},{"x":0.555,"y":2.1},{"x":0.606,"y":1.43},{"x":0.615,"y":1.07},{"x":0.617,"y":1.03},{"x":0.635,"y":1.74},{"x":0.66,"y":1.93},{"x":0.68,"y":2.01},{"x":0.654,"y":3.5},{"x":0.683,"y":2.36},{"x":0.789,"y":2.47},{"x":0.885,"y":2.54},{"x":0.933,"y":2.65},{"x":0.945,"y":2.59},{"x":0.987,"y":3.16},{"x":0.911,"y":2.27},{"x":0.899,"y":2.25},{"x":0.983,"y":2.12},{"x":0.722,"y":2.25},{"x":0.745,"y":2.17},{"x":0.711,"y":2.17},{"x":0.796,"y":2.11},{"x":0.71,"y":2.0},{"x":1.364,"y":2.02},{"x":1.05,"y":1.85},{"x":1.08,"y":1.87},{"x":1.13,"y":1.9},{"x":0.98,"y":1.77},{"x":1.0,"y":1.79},{"x":1.24,"y":1.57},{"x":1.245,"y":1.68},{"x":1.225,"y":0.8},{"x":1.22,"y":0.9},{"x":1.23,"y":0.97},{"x":1.28,"y":1.32},{"x":1.314,"y":1.35},{"x":1.32,"y":1.39},{"x":1.31,"y":1.08},{"x":1.37,"y":1.11},{"x":1.39,"y":1.26},{"x":1.515,"y":1.08},{"x":1.605,"y":0.98},{"x":1.3,"y":1.03},{"x":1.26,"y":1.15},{"x":0.789,"y":0.75},{"x":0.938,"y":0.74},{"x":0.976,"y":0.78},{"x":0.933,"y":0.51},{"x":1.095,"y":0.51},{"x":0.89,"y":0.81},{"x":0.8,"y":0.9},{"x":0.855,"y":0.93},{"x":0.99,"y":0.78},{"x":0.82,"y":1.97},{"x":0.84,"y":2.14},{"x":0.86,"y":2.06},{"x":0.76,"y":1.98},{"x":1.17,"y":1.58},{"x":1.16,"y":1.51},{"x":1.14,"y":1.61},{"x":0.723,"y":1.09},{"x":0.716,"y":1.23},{"x":0.726,"y":1.38},{"x":0.743,"y":1.05},{"x":0.736,"y":1.19},{"x":0.746,"y":1.33},{"x":0.763,"y":1.11},{"x":0.756,"y":1.26},{"x":0.766,"y":1.43},{"x":0.783,"y":1.07},{"x":0.776,"y":1.21},{"x":0.786,"y":1.36},{"x":0.803,"y":1.03},{"x":0.796,"y":1.16},{"x":0.806,"y":1.29},{"x":0.823,"y":1.09},{"x":0.816,"y":1.24},{"x":0.826,"y":1.38},{"x":0.843,"y":1.05},{"x":0.836,"y":1.19},{"x":0.846,"y":1.31},{"x":0.863,"y":1.02},{"x":0.856,"y":1.14},{"x":0.866,"y":1.26},{"x":0.883,"y":1.07},{"x":0.876,"y":1.21},{"x":0.886,"y":1.33},{"x":0.903,"y":1.03},{"x":0.896,"y":1.12},{"x":0.906,"y":1.25},{"x":0.923,"y":1.06},{"x":0.916,"y":1.17},{"x":0.926,"y":1.31},{"x":0.943,"y":1.01},{"x":0.936,"y":1.13},{"x":0.946,"y":1.23},{"x":0.963,"y":1.04},{"x":0.956,"y":1.16},{"x":0.966,"y":1.28},{"x":0.983,"y":1.02},{"x":0.976,"y":1.11},{"x":0.986,"y":1.21},{"x":1.003,"y":1.06},{"x":0.996,"y":1.17},{"x":1.006,"y":1.27},{"x":1.023,"y":1.03},{"x":1.016,"y":1.13},{"x":1.026,"y":1.22},{"x":1.043,"y":1.01},{"x":1.036,"y":1.09},{"x":1.046,"y":1.19},{"x":1.063,"y":1.04},{"x":1.056,"y":1.14},{"x":1.066,"y":1.24},{"x":1.083,"y":1.02},{"x":1.076,"y":1.11},{"x":1.086,"y":1.2},{"x":1.103,"y":1.05},{"x":1.096,"y":1.15},{"x":1.123,"y":1.03},{"x":1.116,"y":1.12}],
"E":[{"x":0.633,"y":1.0},{"x":0.644,"y":1.1},{"x":0.638,"y":1.25},{"x":0.653,"y":1.05},{"x":0.664,"y":1.18},{"x":0.658,"y":1.3},{"x":0.673,"y":1.02},{"x":0.684,"y":1.22},{"x":0.678,"y":1.4},{"x":0.688,"y":1.12},{"x":0.693,"y":1.08},{"x":0.704,"y":1.35},{"x":0.698,"y":0.98},{"x":0.708,"y":1.55},{"x":0.713,"y":1.05},{"x":0.724,"y":1.15},{"x":0.718,"y":1.28},{"x":0.728,"y":1.42},{"x":0.715,"y":1.0},{"x":0.733,"y":1.1},{"x":0.744,"y":0.96},{"x":0.738,"y":1.32},{"x":0.748,"y":1.2},{"x":0.735,"y":1.5},{"x":0.741,"y":1.62},{"x":0.753,"y":1.02},{"x":0.764,"y":1.15},{"x":0.758,"y":1.25},{"x":0.768,"y":1.08},{"x":0.755,"y":1.4},{"x":0.761,"y":1.7},{"x":0.773,"y":1.12},{"x":0.784,"y":0.98},{"x":0.778,"y":1.3},{"x":0.788,"y":1.05},{"x":0.775,"y":1.48},{"x":0.781,"y":1.2},{"x":0.786,"y":1.6},{"x":0.793,"y":1.08},{"x":0.804,"y":1.18},{"x":0.798,"y":0.94},{"x":0.808,"y":1.35},{"x":0.795,"y":1.25},{"x":0.801,"y":1.02},{"x":0.806,"y":1.55},{"x":0.813,"y":1.12},{"x":0.824,"y":1.02},{"x":0.818,"y":1.28},{"x":0.828,"y":1.2},{"x":0.815,"y":1.4},{"x":0.821,"y":0.96},{"x":0.826,"y":1.65},{"x":0.811,"y":1.1},{"x":0.833,"y":1.05},{"x":0.844,"y":1.15},{"x":0.838,"y":1.32},{"x":0.848,"y":1.0},{"x":0.835,"y":1.45},{"x":0.841,"y":1.22},{"x":0.846,"y":1.75},{"x":0.831,"y":1.08},{"x":0.853,"y":1.1},{"x":0.864,"y":1.25},{"x":0.858,"y":0.98},{"x":0.868,"y":1.38},{"x":0.855,"y":1.18},{"x":0.861,"y":1.52},{"x":0.866,"y":1.06},{"x":0.851,"y":1.3},{"x":0.873,"y":1.15},{"x":0.884,"y":1.02},{"x":0.878,"y":1.28},{"x":0.888,"y":1.08},{"x":0.875,"y":1.42},{"x":0.881,"y":1.2},{"x":0.886,"y":1.62},{"x":0.871,"y":0.92},{"x":0.893,"y":1.08},{"x":0.904,"y":1.2},{"x":0.898,"y":1.35},{"x":0.908,"y":1.0},{"x":0.895,"y":1.5},{"x":0.901,"y":1.14},{"x":0.906,"y":1.28},{"x":0.891,"y":1.8},{"x":0.913,"y":1.12},{"x":0.924,"y":1.05},{"x":0.918,"y":1.25},{"x":0.928,"y":1.4},{"x":0.915,"y":0.96},{"x":0.921,"y":1.18},{"x":0.926,"y":1.55},{"x":0.911,"y":1.32},{"x":0.933,"y":1.18},{"x":0.944,"y":1.08},{"x":0.938,"y":1.3},{"x":0.948,"y":1.02},{"x":0.935,"y":1.45},{"x":0.941,"y":1.22},{"x":0.946,"y":1.68},{"x":0.953,"y":1.05},{"x":0.964,"y":1.15},{"x":0.958,"y":1.38},{"x":0.968,"y":1.25},{"x":0.955,"y":0.95},{"x":0.961,"y":1.52},{"x":0.966,"y":1.1},{"x":0.973,"y":1.12},{"x":0.984,"y":1.22},{"x":0.978,"y":1.02},{"x":0.988,"y":1.35},{"x":0.975,"y":1.18},{"x":0.981,"y":1.48},{"x":0.986,"y":1.75},{"x":0.993,"y":1.08},{"x":1.004,"y":1.28},{"x":0.998,"y":1.15},{"x":1.008,"y":1.4},{"x":0.995,"y":0.98},{"x":1.001,"y":1.22},{"x":1.006,"y":1.58},{"x":1.013,"y":1.15},{"x":1.024,"y":1.05},{"x":1.018,"y":1.32},{"x":1.028,"y":1.2},{"x":1.015,"y":1.45},{"x":1.021,"y":1.1},{"x":1.033,"y":1.1},{"x":1.044,"y":1.25},{"x":1.038,"y":1.0},{"x":1.048,"y":1.38},{"x":1.035,"y":1.18},{"x":1.041,"y":1.62},{"x":1.053,"y":1.05},{"x":1.064,"y":1.2},{"x":1.058,"y":1.3},{"x":1.068,"y":1.12},{"x":1.055,"y":1.5},{"x":1.073,"y":1.15},{"x":1.084,"y":1.02},{"x":1.078,"y":1.28},{"x":1.088,"y":1.38},{"x":1.075,"y":1.08},{"x":1.093,"y":1.1},{"x":1.104,"y":1.22},{"x":1.098,"y":0.98},{"x":1.108,"y":1.32},{"x":1.095,"y":1.45},{"x":1.113,"y":1.05},{"x":1.124,"y":1.18},{"x":1.118,"y":1.28},{"x":1.128,"y":1.6},{"x":1.133,"y":1.12},{"x":1.144,"y":1.25},{"x":1.138,"y":1.0},{"x":1.148,"y":1.38},{"x":1.153,"y":1.08},{"x":1.164,"y":1.2},{"x":1.158,"y":1.3},{"x":1.173,"y":1.15},{"x":1.184,"y":1.05},{"x":1.178,"y":1.25},{"x":1.193,"y":1.1},{"x":1.204,"y":1.28},{"x":1.198,"y":1.18},{"x":1.213,"y":1.05},{"x":1.224,"y":1.22},{"x":1.233,"y":1.15},{"x":1.244,"y":1.12},{"x":0.909,"y":3.49},{"x":1.037,"y":3.16},{"x":1.14,"y":2.64},{"x":1.008,"y":2.59},{"x":0.99,"y":2.55},{"x":0.619,"y":2.47},{"x":0.83,"y":2.36},{"x":0.754,"y":2.28},{"x":0.9,"y":2.24},{"x":0.78,"y":2.23},{"x":0.691,"y":2.17},{"x":0.944,"y":2.16},{"x":0.832,"y":2.19},{"x":0.873,"y":2.1},{"x":0.631,"y":2.02},{"x":0.905,"y":2.12},{"x":1.0,"y":2.01},{"x":1.01,"y":2.0},{"x":1.03,"y":1.91},{"x":0.95,"y":1.97},{"x":1.08,"y":1.95},{"x":1.11,"y":1.95},{"x":1.12,"y":1.82},{"x":1.12,"y":1.77},{"x":1.17,"y":1.74},{"x":1.165,"y":1.65},{"x":1.26,"y":1.88},{"x":0.607,"y":1.78},{"x":0.595,"y":1.71},{"x":0.625,"y":1.75},{"x":0.633,"y":1.45},{"x":0.62,"y":1.33},{"x":0.59,"y":0.95},{"x":0.64,"y":0.94},{"x":0.66,"y":1.05},{"x":0.7,"y":1.93},{"x":0.745,"y":1.97},{"x":0.755,"y":1.92},{"x":0.735,"y":1.76},{"x":0.74,"y":0.79},{"x":0.8,"y":0.8},{"x":0.92,"y":0.74},{"x":0.97,"y":0.75},{"x":1.045,"y":0.52},{"x":1.062,"y":0.52},{"x":1.1,"y":0.82},{"x":1.18,"y":0.9},{"x":1.22,"y":0.88},{"x":1.23,"y":1.49},{"x":1.24,"y":1.45},{"x":1.28,"y":1.45},{"x":1.26,"y":1.35},{"x":1.3,"y":1.22},{"x":1.33,"y":1.2},{"x":1.345,"y":1.24},{"x":1.365,"y":1.14},{"x":1.39,"y":1.17},{"x":1.4,"y":1.22},{"x":1.435,"y":1.11},{"x":1.45,"y":1.1},{"x":1.495,"y":1.17},{"x":1.53,"y":1.17},{"x":1.545,"y":1.11},{"x":1.515,"y":1.07},{"x":1.565,"y":1.06},{"x":1.57,"y":1.02},{"x":1.66,"y":1.03},{"x":1.82,"y":1.07},{"x":1.27,"y":1.02},{"x":1.28,"y":0.99},{"x":1.24,"y":1.08},{"x":1.21,"y":1.21},{"x":1.19,"y":1.27},{"x":0.61,"y":1.7},{"x":0.67,"y":1.75},{"x":0.723,"y":1.04},{"x":0.716,"y":1.17},{"x":0.726,"y":1.3},{"x":0.743,"y":1.08},{"x":0.736,"y":1.22},{"x":0.746,"y":1.35},{"x":0.763,"y":1.01},{"x":0.756,"y":1.13},{"x":0.766,"y":1.27},{"x":0.783,"y":1.06},{"x":0.776,"y":1.19},{"x":0.786,"y":1.32},{"x":0.803,"y":1.1},{"x":0.796,"y":1.24},{"x":0.806,"y":1.37},{"x":0.823,"y":1.03},{"x":0.816,"y":1.16},{"x":0.826,"y":1.29},{"x":0.843,"y":1.07},{"x":0.836,"y":1.21},{"x":0.846,"y":1.34},{"x":0.863,"y":1.01},{"x":0.856,"y":1.14},{"x":0.866,"y":1.27},{"x":0.883,"y":1.05},{"x":0.876,"y":1.18},{"x":0.886,"y":1.31},{"x":0.903,"y":1.09},{"x":0.896,"y":1.23},{"x":0.906,"y":1.36},{"x":0.923,"y":1.02},{"x":0.916,"y":1.15},{"x":0.926,"y":1.28},{"x":0.943,"y":1.06},{"x":0.936,"y":1.2},{"x":0.946,"y":1.33},{"x":0.963,"y":1.01},{"x":0.956,"y":1.13},{"x":0.966,"y":1.26},{"x":0.983,"y":1.05},{"x":0.976,"y":1.17},{"x":0.986,"y":1.3},{"x":1.003,"y":1.09},{"x":0.996,"y":1.22},{"x":1.006,"y":1.34},{"x":1.023,"y":1.02},{"x":1.016,"y":1.14},{"x":1.026,"y":1.27},{"x":1.043,"y":1.06},{"x":1.036,"y":1.19},{"x":1.046,"y":1.31},{"x":1.063,"y":1.03},{"x":1.056,"y":1.15},{"x":1.066,"y":1.26},{"x":1.083,"y":1.07},{"x":1.076,"y":1.2},{"x":1.103,"y":1.04},{"x":1.096,"y":1.16},{"x":1.123,"y":1.08},{"x":1.116,"y":1.21}],
"F":[{"x":0.913,"y":1.0},{"x":0.924,"y":1.12},{"x":0.918,"y":0.95},{"x":0.933,"y":1.05},{"x":0.944,"y":0.98},{"x":0.938,"y":1.2},{"x":0.953,"y":1.1},{"x":0.964,"y":0.94},{"x":0.958,"y":1.02},{"x":0.968,"y":1.25},{"x":0.973,"y":1.0},{"x":0.984,"y":1.15},{"x":0.978,"y":0.96},{"x":0.988,"y":1.08},{"x":0.993,"y":1.05},{"x":1.004,"y":0.92},{"x":0.998,"y":1.18},{"x":1.008,"y":1.1},{"x":0.995,"y":1.28},{"x":1.013,"y":0.98},{"x":1.024,"y":1.12},{"x":1.018,"y":1.04},{"x":1.028,"y":1.22},{"x":1.015,"y":0.94},{"x":1.033,"y":1.08},{"x":1.044,"y":0.96},{"x":1.038,"y":1.18},{"x":1.048,"y":1.02},{"x":1.035,"y":1.3},{"x":1.041,"y":1.12},{"x":1.053,"y":1.0},{"x":1.064,"y":1.15},{"x":1.058,"y":1.06},{"x":1.068,"y":1.25},{"x":1.055,"y":0.95},{"x":1.061,"y":1.38},{"x":1.073,"y":1.1},{"x":1.084,"y":1.02},{"x":1.078,"y":1.2},{"x":1.088,"y":0.98},{"x":1.075,"y":1.3},{"x":1.081,"y":1.14},{"x":1.093,"y":1.05},{"x":1.104,"y":1.18},{"x":1.098,"y":0.96},{"x":1.108,"y":1.25},{"x":1.095,"y":1.1},{"x":1.101,"y":1.4},{"x":1.106,"y":1.0},{"x":1.113,"y":1.12},{"x":1.124,"y":1.0},{"x":1.118,"y":1.22},{"x":1.128,"y":1.06},{"x":1.115,"y":1.32},{"x":1.121,"y":1.16},{"x":1.126,"y":1.5},{"x":1.133,"y":1.08},{"x":1.144,"y":1.18},{"x":1.138,"y":0.98},{"x":1.148,"y":1.28},{"x":1.135,"y":1.12},{"x":1.141,"y":1.42},{"x":1.146,"y":1.04},{"x":1.153,"y":1.15},{"x":1.164,"y":1.05},{"x":1.158,"y":1.25},{"x":1.168,"y":1.1},{"x":1.155,"y":1.35},{"x":1.161,"y":0.96},{"x":1.166,"y":1.55},{"x":1.173,"y":1.1},{"x":1.184,"y":1.2},{"x":1.178,"y":1.02},{"x":1.188,"y":1.3},{"x":1.175,"y":1.16},{"x":1.181,"y":1.45},{"x":1.186,"y":1.08},{"x":1.193,"y":1.18},{"x":1.204,"y":1.06},{"x":1.198,"y":1.28},{"x":1.208,"y":1.12},{"x":1.195,"y":1.38},{"x":1.201,"y":1.0},{"x":1.206,"y":1.62},{"x":1.191,"y":1.22},{"x":1.213,"y":1.12},{"x":1.224,"y":1.24},{"x":1.218,"y":1.05},{"x":1.228,"y":1.32},{"x":1.215,"y":1.18},{"x":1.221,"y":1.48},{"x":1.226,"y":0.98},{"x":1.233,"y":1.2},{"x":1.244,"y":1.08},{"x":1.238,"y":1.3},{"x":1.248,"y":1.15},{"x":1.235,"y":1.42},{"x":1.241,"y":1.02},{"x":1.246,"y":1.58},{"x":1.253,"y":1.15},{"x":1.264,"y":1.25},{"x":1.258,"y":1.05},{"x":1.268,"y":1.35},{"x":1.255,"y":1.2},{"x":1.261,"y":1.52},{"x":1.266,"y":1.1},{"x":1.273,"y":1.22},{"x":1.284,"y":1.1},{"x":1.278,"y":1.32},{"x":1.288,"y":1.0},{"x":1.275,"y":1.42},{"x":1.281,"y":1.18},{"x":1.286,"y":1.65},{"x":1.293,"y":1.18},{"x":1.304,"y":1.28},{"x":1.298,"y":1.08},{"x":1.308,"y":1.38},{"x":1.295,"y":1.22},{"x":1.301,"y":1.5},{"x":1.313,"y":1.25},{"x":1.324,"y":1.12},{"x":1.318,"y":1.35},{"x":1.328,"y":1.02},{"x":1.315,"y":1.45},{"x":1.321,"y":1.2},{"x":1.333,"y":1.2},{"x":1.344,"y":1.3},{"x":1.338,"y":1.08},{"x":1.348,"y":1.42},{"x":1.335,"y":1.55},{"x":1.353,"y":1.15},{"x":1.364,"y":1.28},{"x":1.358,"y":1.38},{"x":1.368,"y":1.05},{"x":1.355,"y":1.22},{"x":1.373,"y":1.25},{"x":1.384,"y":1.12},{"x":1.378,"y":1.35},{"x":1.388,"y":1.48},{"x":1.393,"y":1.18},{"x":1.404,"y":1.3},{"x":1.398,"y":1.08},{"x":1.408,"y":1.4},{"x":1.413,"y":1.22},{"x":1.424,"y":1.12},{"x":1.418,"y":1.35},{"x":1.433,"y":1.28},{"x":1.444,"y":1.15},{"x":1.438,"y":1.05},{"x":1.729,"y":3.49},{"x":1.264,"y":3.16},{"x":1.366,"y":2.64},{"x":1.29,"y":2.59},{"x":1.414,"y":2.55},{"x":1.42,"y":2.47},{"x":1.11,"y":2.36},{"x":1.366,"y":2.28},{"x":1.218,"y":2.24},{"x":1.574,"y":2.25},{"x":1.095,"y":2.19},{"x":1.3,"y":2.17},{"x":1.152,"y":2.13},{"x":1.64,"y":2.13},{"x":1.557,"y":2.09},{"x":1.617,"y":2.02},{"x":1.83,"y":2.0},{"x":1.96,"y":2.01},{"x":1.78,"y":1.95},{"x":1.453,"y":1.98},{"x":1.37,"y":1.93},{"x":1.0,"y":1.92},{"x":1.028,"y":1.92},{"x":1.05,"y":1.85},{"x":0.739,"y":1.35},{"x":0.747,"y":1.28},{"x":0.777,"y":1.22},{"x":0.784,"y":0.95},{"x":0.84,"y":1.07},{"x":0.834,"y":0.84},{"x":0.855,"y":0.8},{"x":0.89,"y":0.77},{"x":0.85,"y":1.43},{"x":0.877,"y":1.29},{"x":0.9,"y":1.42},{"x":0.955,"y":1.46},{"x":1.066,"y":0.76},{"x":1.071,"y":0.53},{"x":1.1,"y":0.53},{"x":1.03,"y":0.83},{"x":1.285,"y":0.81},{"x":1.28,"y":0.89},{"x":1.944,"y":1.5},{"x":1.78,"y":1.03},{"x":1.74,"y":1.04},{"x":1.755,"y":1.21},{"x":1.747,"y":1.38},{"x":1.725,"y":1.46},{"x":1.763,"y":1.64},{"x":1.763,"y":1.75},{"x":1.75,"y":1.75},{"x":1.685,"y":1.16},{"x":1.64,"y":1.03},{"x":1.65,"y":1.21},{"x":1.64,"y":1.57},{"x":1.69,"y":1.52},{"x":1.675,"y":1.46},{"x":1.62,"y":1.74},{"x":1.615,"y":1.8},{"x":1.6,"y":1.1},{"x":1.59,"y":1.05},{"x":1.565,"y":1.52},{"x":1.574,"y":1.63},{"x":1.548,"y":1.82},{"x":1.525,"y":1.35},{"x":1.513,"y":1.24},{"x":1.488,"y":1.1},{"x":1.505,"y":1.57},{"x":1.496,"y":1.74},{"x":1.474,"y":1.87},{"x":1.44,"y":1.79},{"x":1.42,"y":1.74},{"x":1.436,"y":1.65},{"x":1.484,"y":1.46},{"x":1.453,"y":1.35},{"x":1.47,"y":1.24},{"x":1.519,"y":1.13},{"x":1.54,"y":1.07},{"x":1.42,"y":1.07},{"x":1.445,"y":1.02},{"x":1.384,"y":1.57},{"x":1.35,"y":1.68},{"x":1.317,"y":1.74},{"x":1.28,"y":1.76},{"x":1.247,"y":1.74},{"x":1.226,"y":1.63},{"x":1.178,"y":1.8},{"x":1.143,"y":1.79},{"x":1.104,"y":1.78},{"x":1.083,"y":1.68},{"x":1.057,"y":1.54},{"x":1.092,"y":1.57},{"x":1.123,"y":1.6},{"x":0.86,"y":0.95},{"x":0.88,"y":1.02},{"x":0.9,"y":0.92},{"x":0.92,"y":1.08},{"x":0.95,"y":0.88},{"x":0.97,"y":0.9},{"x":1.06,"y":0.85},{"x":1.15,"y":0.86},{"x":1.2,"y":0.92},{"x":1.34,"y":0.95},{"x":1.38,"y":0.98},{"x":1.5,"y":1.15},{"x":1.55,"y":1.45},{"x":1.6,"y":1.3},{"x":1.003,"y":1.0},{"x":0.996,"y":1.09},{"x":1.006,"y":1.17},{"x":1.023,"y":0.97},{"x":1.016,"y":1.05},{"x":1.026,"y":1.13},{"x":1.043,"y":1.01},{"x":1.036,"y":1.1},{"x":1.046,"y":1.19},{"x":1.063,"y":0.98},{"x":1.056,"y":1.07},{"x":1.066,"y":1.16},{"x":1.083,"y":1.03},{"x":1.076,"y":1.12},{"x":1.086,"y":1.21},{"x":1.103,"y":1.0},{"x":1.096,"y":1.08},{"x":1.106,"y":1.17},{"x":1.123,"y":1.04},{"x":1.116,"y":1.13},{"x":1.126,"y":1.23},{"x":1.143,"y":1.01},{"x":1.136,"y":1.1},{"x":1.146,"y":1.19},{"x":1.163,"y":1.06},{"x":1.156,"y":1.15},{"x":1.166,"y":1.25},{"x":1.183,"y":1.03},{"x":1.176,"y":1.12},{"x":1.186,"y":1.21},{"x":1.203,"y":1.08},{"x":1.196,"y":1.17},{"x":1.206,"y":1.27},{"x":1.223,"y":1.05},{"x":1.216,"y":1.14},{"x":1.226,"y":1.24},{"x":1.243,"y":1.1},{"x":1.236,"y":1.19},{"x":1.246,"y":1.29},{"x":1.263,"y":1.07},{"x":1.256,"y":1.16},{"x":1.266,"y":1.26},{"x":1.283,"y":1.12},{"x":1.276,"y":1.21},{"x":1.286,"y":1.31},{"x":1.303,"y":1.09},{"x":1.296,"y":1.19},{"x":1.306,"y":1.28},{"x":1.323,"y":1.14},{"x":1.316,"y":1.23},{"x":1.326,"y":1.33},{"x":1.343,"y":1.11},{"x":1.336,"y":1.21},{"x":1.363,"y":1.16},{"x":1.356,"y":1.25},{"x":1.383,"y":1.13},{"x":1.376,"y":1.23},{"x":1.403,"y":1.18},{"x":1.396,"y":1.27}]
},
"concat":[
{"width":310,"height":226,"view":{"stroke":null},"resolve":{"scale":{"y":"independent"}},"layer":[
{"data":{"name":"lfp"},"mark":{"type":"line","color":"#3a3a3a","strokeWidth":0.9},"encoding":{"x":{"field":"t","type":"quantitative","scale":{"domain":[0.1905,3.881],"nice":false,"zero":false},"axis":null},"y":{"field":"mV","type":"quantitative","scale":{"domain":[-0.42,0.3333],"nice":false,"zero":false},"axis":null}}},
{"data":{"name":"mua"},"mark":{"type":"area","color":"#666"},"encoding":{"x":{"field":"t","type":"quantitative","scale":{"domain":[0.1905,3.881],"nice":false,"zero":false},"axis":null},"y":{"field":"a","type":"quantitative","scale":{"domain":[-54.1,131.15],"nice":false,"zero":false},"axis":null},"y2":{"field":"d"}}},
{"data":{"name":"spikes"},"mark":{"type":"rule","color":"#6a6a6a","strokeWidth":0.8},"encoding":{"x":{"field":"t","type":"quantitative","scale":{"domain":[0.1905,3.881],"nice":false,"zero":false},"axis":null},"y":{"field":"lo","type":"quantitative","scale":{"domain":[-54.1,131.15],"nice":false,"zero":false},"axis":null},"y2":{"field":"hi"}}},
{"data":{"name":"mua"},"mark":{"type":"area","color":"#000"},"encoding":{"x":{"field":"t","type":"quantitative","scale":{"domain":[0.1905,3.881],"nice":false,"zero":false},"axis":null},"y":{"field":"b","type":"quantitative","scale":{"domain":[-54.1,131.15],"nice":false,"zero":false},"axis":null},"y2":{"field":"c"}}},
{"data":{"values":[{"t1":-0.1667,"t2":-0.1667,"v1":0,"v2":0.2},{"t1":-0.1667,"t2":0.3333,"v1":0,"v2":0}]},"mark":{"type":"rule","color":"#333","strokeWidth":1},"encoding":{"x":{"field":"t1","type":"quantitative","scale":{"domain":[0.1905,3.881],"nice":false,"zero":false},"axis":null},"x2":{"field":"t2"},"y":{"field":"v1","type":"quantitative","scale":{"domain":[-0.42,0.3333],"nice":false,"zero":false},"axis":null},"y2":{"field":"v2"}}},
{"data":{"values":[{"t1":-0.1667,"t2":-0.1667,"u1":-42,"u2":8},{"t1":-0.1667,"t2":0.3333,"u1":-42,"u2":-42}]},"mark":{"type":"rule","color":"#333","strokeWidth":1},"encoding":{"x":{"field":"t1","type":"quantitative","scale":{"domain":[0.1905,3.881],"nice":false,"zero":false},"axis":null},"x2":{"field":"t2"},"y":{"field":"u1","type":"quantitative","scale":{"domain":[-54.1,131.15],"nice":false,"zero":false},"axis":null},"y2":{"field":"u2"}}},
{"data":{"values":[{"t1":2.02,"t2":4.02,"u":-40.2}]},"mark":{"type":"rule","color":"#e8262d","strokeWidth":3},"encoding":{"x":{"field":"t1","type":"quantitative","scale":{"domain":[0.1905,3.881],"nice":false,"zero":false},"axis":null},"x2":{"field":"t2"},"y":{"field":"u","type":"quantitative","scale":{"domain":[-54.1,131.15],"nice":false,"zero":false},"axis":null}}},
{"data":{"values":[{"t":0.083,"v":-0.03,"label":"0.5sec","s":11.5},{"t":2.083,"v":-0.02,"label":"MUA","s":11.5},{"t":2.083,"v":0.36,"label":"Band-pass Filtered LFP: Delta Band, [0.5-4] Hz","s":12.3}]},"mark":{"type":"text","baseline":"middle","align":"center"},"encoding":{"x":{"field":"t","type":"quantitative","scale":{"domain":[0.1905,3.881],"nice":false,"zero":false},"axis":null},"y":{"field":"v","type":"quantitative","scale":{"domain":[-0.42,0.3333],"nice":false,"zero":false},"axis":null},"text":{"field":"label"},"size":{"field":"s","type":"quantitative","scale":null}}},
{"data":{"values":[{"t":0.083,"u":-49.2,"label":"0.5sec"},{"t":3.083,"u":-52.5,"label":"Visual Input"}]},"mark":{"type":"text","fontSize":11.5,"baseline":"middle","align":"center"},"encoding":{"x":{"field":"t","type":"quantitative","scale":{"domain":[0.1905,3.881],"nice":false,"zero":false},"axis":null},"y":{"field":"u","type":"quantitative","scale":{"domain":[-54.1,131.15],"nice":false,"zero":false},"axis":null},"text":{"field":"label"}}},
{"data":{"values":[{"t":-0.262,"v":0.0967,"label":"0.2 mV"}]},"mark":{"type":"text","fontSize":11.5,"baseline":"middle","align":"center","angle":270},"encoding":{"x":{"field":"t","type":"quantitative","scale":{"domain":[0.1905,3.881],"nice":false,"zero":false},"axis":null},"y":{"field":"v","type":"quantitative","scale":{"domain":[-0.42,0.3333],"nice":false,"zero":false},"axis":null},"text":{"field":"label"}}},
{"data":{"values":[{"t":-0.262,"u":-16.4,"label":"0.05 mV"}]},"mark":{"type":"text","fontSize":11.5,"baseline":"middle","align":"center","angle":270},"encoding":{"x":{"field":"t","type":"quantitative","scale":{"domain":[0.1905,3.881],"nice":false,"zero":false},"axis":null},"y":{"field":"u","type":"quantitative","scale":{"domain":[-54.1,131.15],"nice":false,"zero":false},"axis":null},"text":{"field":"label"}}},
{"data":{"values":[{"t":-0.43,"v":0.36,"label":"A"}]},"mark":{"type":"text","fontSize":17,"baseline":"middle","align":"center","color":"#222"},"encoding":{"x":{"field":"t","type":"quantitative","scale":{"domain":[0.1905,3.881],"nice":false,"zero":false},"axis":null},"y":{"field":"v","type":"quantitative","scale":{"domain":[-0.42,0.3333],"nice":false,"zero":false},"axis":null},"text":{"field":"label"}}}
]},
{"width":310,"height":226,"resolve":{"axis":{"x":"independent","y":"independent"}},"layer":[
{"data":{"name":"B"},"mark":{"type":"circle","size":12,"color":"#111","opacity":1},"encoding":{"x":{"field":"x","type":"quantitative","scale":{"domain":[0.4,2.0],"nice":false,"zero":false},"axis":{"orient":"bottom","values":[0.4,0.6,0.8,1.0,1.2,1.4,1.6,1.8,2.0],"format":".1f","title":"Change in Relative Delta Power"}},"y":{"field":"y","type":"quantitative","scale":{"domain":[0,3.75],"nice":false},"axis":{"orient":"left","values":[0,0.5,1,1.5,2,2.5,3,3.5],"labelExpr":"datum.value == 0 ? '0' : format(datum.value, '.1f')","title":"MUA Response"}}}},
{"data":{"name":"fit"},"transform":[{"filter":"datum.panel == 'B'"}],"mark":{"type":"line","color":"#e8262d","strokeWidth":1.2},"encoding":{"x":{"field":"x","type":"quantitative","scale":{"domain":[0.4,2.0],"nice":false,"zero":false},"axis":{"orient":"top","values":[0.4,0.6,0.8,1.0,1.2,1.4,1.6,1.8,2.0],"labels":false,"title":null,"minExtent":0,"maxExtent":0}},"y":{"field":"y","type":"quantitative","scale":{"domain":[0,3.75],"nice":false},"axis":{"orient":"right","values":[0,0.5,1,1.5,2,2.5,3,3.5],"labels":false,"title":null,"minExtent":0,"maxExtent":0}}}},
{"data":{"values":[{"label":"B","x":0.133,"y":3.89,"s":17},{"label":"Correlation Coefficient = –0.15","x":1.2,"y":3.905,"s":12.3}]},"mark":{"type":"text","color":"#333","baseline":"middle","align":"center"},"encoding":{"x":{"field":"x","type":"quantitative","scale":{"domain":[0.4,2.0],"nice":false,"zero":false},"axis":null},"y":{"field":"y","type":"quantitative","scale":{"domain":[0,3.75],"nice":false},"axis":null},"text":{"field":"label"},"size":{"field":"s","type":"quantitative","scale":null}}}
]},
{"width":310,"height":226,"resolve":{"axis":{"x":"independent","y":"independent"}},"layer":[
{"data":{"name":"C"},"mark":{"type":"circle","size":12,"color":"#111","opacity":1},"encoding":{"x":{"field":"x","type":"quantitative","scale":{"domain":[0.4,2.0],"nice":false,"zero":false},"axis":{"orient":"bottom","values":[0.4,0.6,0.8,1.0,1.2,1.4,1.6,1.8,2.0],"format":".1f","title":"Change in Relative Theta Power"}},"y":{"field":"y","type":"quantitative","scale":{"domain":[0,3.75],"nice":false},"axis":{"orient":"left","values":[0,0.5,1,1.5,2,2.5,3,3.5],"labelExpr":"datum.value == 0 ? '0' : format(datum.value, '.1f')","title":"MUA Response"}}}},
{"data":{"name":"fit"},"transform":[{"filter":"datum.panel == 'C'"}],"mark":{"type":"line","color":"#e8262d","strokeWidth":1.2},"encoding":{"x":{"field":"x","type":"quantitative","scale":{"domain":[0.4,2.0],"nice":false,"zero":false},"axis":{"orient":"top","values":[0.4,0.6,0.8,1.0,1.2,1.4,1.6,1.8,2.0],"labels":false,"title":null,"minExtent":0,"maxExtent":0}},"y":{"field":"y","type":"quantitative","scale":{"domain":[0,3.75],"nice":false},"axis":{"orient":"right","values":[0,0.5,1,1.5,2,2.5,3,3.5],"labels":false,"title":null,"minExtent":0,"maxExtent":0}}}},
{"data":{"values":[{"label":"C","x":0.133,"y":3.87,"s":17},{"label":"Correlation Coefficient = 0.004","x":1.2,"y":3.905,"s":12.3}]},"mark":{"type":"text","color":"#333","baseline":"middle","align":"center"},"encoding":{"x":{"field":"x","type":"quantitative","scale":{"domain":[0.4,2.0],"nice":false,"zero":false},"axis":null},"y":{"field":"y","type":"quantitative","scale":{"domain":[0,3.75],"nice":false},"axis":null},"text":{"field":"label"},"size":{"field":"s","type":"quantitative","scale":null}}}
]},
{"width":310,"height":226,"resolve":{"axis":{"x":"independent","y":"independent"}},"layer":[
{"data":{"name":"D"},"mark":{"type":"circle","size":12,"color":"#111","opacity":1},"encoding":{"x":{"field":"x","type":"quantitative","scale":{"domain":[0.4,2.0],"nice":false,"zero":false},"axis":{"orient":"bottom","values":[0.4,0.6,0.8,1.0,1.2,1.4,1.6,1.8,2.0],"format":".1f","title":"Change in Relative Alpha Power"}},"y":{"field":"y","type":"quantitative","scale":{"domain":[0,3.75],"nice":false},"axis":{"orient":"left","values":[0,0.5,1,1.5,2,2.5,3,3.5],"labelExpr":"datum.value == 0 ? '0' : format(datum.value, '.1f')","title":"MUA Response"}}}},
{"data":{"name":"fit"},"transform":[{"filter":"datum.panel == 'D'"}],"mark":{"type":"line","color":"#e8262d","strokeWidth":1.2},"encoding":{"x":{"field":"x","type":"quantitative","scale":{"domain":[0.4,2.0],"nice":false,"zero":false},"axis":{"orient":"top","values":[0.4,0.6,0.8,1.0,1.2,1.4,1.6,1.8,2.0],"labels":false,"title":null,"minExtent":0,"maxExtent":0}},"y":{"field":"y","type":"quantitative","scale":{"domain":[0,3.75],"nice":false},"axis":{"orient":"right","values":[0,0.5,1,1.5,2,2.5,3,3.5],"labels":false,"title":null,"minExtent":0,"maxExtent":0}}}},
{"data":{"values":[{"label":"D","x":0.133,"y":3.87,"s":17},{"label":"Correlation Coefficient = –0.24","x":1.2,"y":3.905,"s":12.3}]},"mark":{"type":"text","color":"#333","baseline":"middle","align":"center"},"encoding":{"x":{"field":"x","type":"quantitative","scale":{"domain":[0.4,2.0],"nice":false,"zero":false},"axis":null},"y":{"field":"y","type":"quantitative","scale":{"domain":[0,3.75],"nice":false},"axis":null},"text":{"field":"label"},"size":{"field":"s","type":"quantitative","scale":null}}}
]},
{"width":310,"height":226,"resolve":{"axis":{"x":"independent","y":"independent"}},"layer":[
{"data":{"name":"E"},"mark":{"type":"circle","size":12,"color":"#111","opacity":1},"encoding":{"x":{"field":"x","type":"quantitative","scale":{"domain":[0.4,2.0],"nice":false,"zero":false},"axis":{"orient":"bottom","values":[0.4,0.6,0.8,1.0,1.2,1.4,1.6,1.8,2.0],"format":".1f","title":"Change in Relative Beta Power"}},"y":{"field":"y","type":"quantitative","scale":{"domain":[0,3.75],"nice":false},"axis":{"orient":"left","values":[0,0.5,1,1.5,2,2.5,3,3.5],"labelExpr":"datum.value == 0 ? '0' : format(datum.value, '.1f')","title":"MUA Response"}}}},
{"data":{"name":"fit"},"transform":[{"filter":"datum.panel == 'E'"}],"mark":{"type":"line","color":"#e8262d","strokeWidth":1.2},"encoding":{"x":{"field":"x","type":"quantitative","scale":{"domain":[0.4,2.0],"nice":false,"zero":false},"axis":{"orient":"top","values":[0.4,0.6,0.8,1.0,1.2,1.4,1.6,1.8,2.0],"labels":false,"title":null,"minExtent":0,"maxExtent":0}},"y":{"field":"y","type":"quantitative","scale":{"domain":[0,3.75],"nice":false},"axis":{"orient":"right","values":[0,0.5,1,1.5,2,2.5,3,3.5],"labels":false,"title":null,"minExtent":0,"maxExtent":0}}}},
{"data":{"values":[{"label":"E","x":0.133,"y":3.9,"s":17},{"label":"Correlation Coefficient = –0.09","x":1.2,"y":3.905,"s":12.3}]},"mark":{"type":"text","color":"#333","baseline":"middle","align":"center"},"encoding":{"x":{"field":"x","type":"quantitative","scale":{"domain":[0.4,2.0],"nice":false,"zero":false},"axis":null},"y":{"field":"y","type":"quantitative","scale":{"domain":[0,3.75],"nice":false},"axis":null},"text":{"field":"label"},"size":{"field":"s","type":"quantitative","scale":null}}}
]},
{"width":310,"height":226,"resolve":{"axis":{"x":"independent","y":"independent"}},"layer":[
{"data":{"name":"F"},"mark":{"type":"circle","size":12,"color":"#111","opacity":1},"encoding":{"x":{"field":"x","type":"quantitative","scale":{"domain":[0.4,2.0],"nice":false,"zero":false},"axis":{"orient":"bottom","values":[0.4,0.6,0.8,1.0,1.2,1.4,1.6,1.8,2.0],"format":".1f","title":"Change in Relative Gamma Power"}},"y":{"field":"y","type":"quantitative","scale":{"domain":[0,3.75],"nice":false},"axis":{"orient":"left","values":[0,0.5,1,1.5,2,2.5,3,3.5],"labelExpr":"datum.value == 0 ? '0' : format(datum.value, '.1f')","title":"MUA Response"}}}},
{"data":{"name":"fit"},"transform":[{"filter":"datum.panel == 'F'"}],"mark":{"type":"line","color":"#e8262d","strokeWidth":1.2},"encoding":{"x":{"field":"x","type":"quantitative","scale":{"domain":[0.4,2.0],"nice":false,"zero":false},"axis":{"orient":"top","values":[0.4,0.6,0.8,1.0,1.2,1.4,1.6,1.8,2.0],"labels":false,"title":null,"minExtent":0,"maxExtent":0}},"y":{"field":"y","type":"quantitative","scale":{"domain":[0,3.75],"nice":false},"axis":{"orient":"right","values":[0,0.5,1,1.5,2,2.5,3,3.5],"labels":false,"title":null,"minExtent":0,"maxExtent":0}}}},
{"data":{"values":[{"label":"F","x":0.133,"y":3.9,"s":17},{"label":"Correlation Coefficient = 0.37","x":1.2,"y":3.905,"s":12.3}]},"mark":{"type":"text","color":"#333","baseline":"middle","align":"center"},"encoding":{"x":{"field":"x","type":"quantitative","scale":{"domain":[0.4,2.0],"nice":false,"zero":false},"axis":null},"y":{"field":"y","type":"quantitative","scale":{"domain":[0,3.75],"nice":false},"axis":null},"text":{"field":"label"},"size":{"field":"s","type":"quantitative","scale":null}}}
]}
]}
